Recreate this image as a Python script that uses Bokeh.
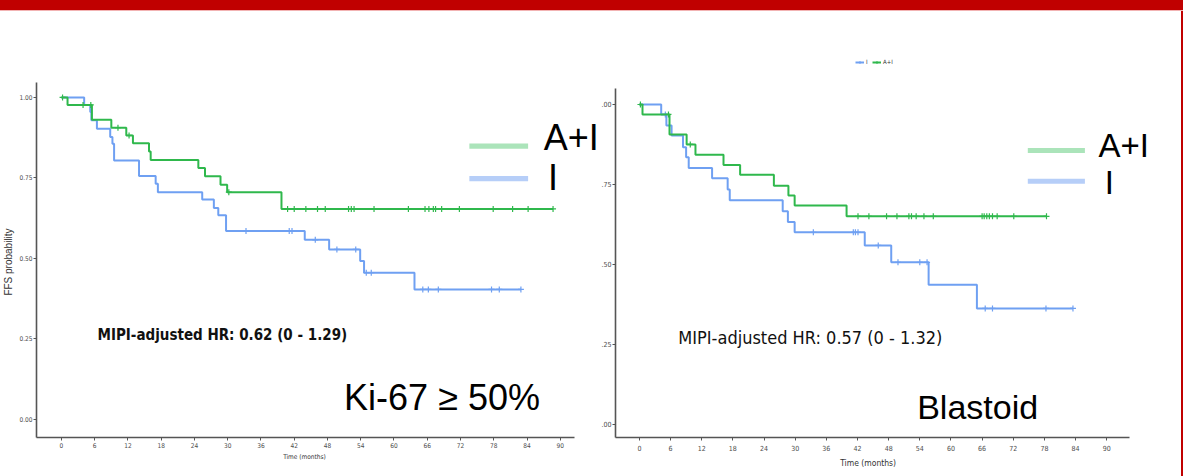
import numpy as np
from bokeh.plotting import figure
from bokeh.models import (Range1d, FixedTicker, Label, BoxAnnotation, Legend,
                          LegendItem, Div)
from bokeh.layouts import row, column
from bokeh.embed import file_html
from bokeh.resources import INLINE

# ---------------- data ----------------
x_ticks = [0, 6, 12, 18, 24, 30, 36, 42, 48, 54, 60, 66, 72, 78, 84, 90]
y_ticks = [0.0, 0.25, 0.5, 0.75, 1.0]
left_y_labels = ["0.00", "0.25", "0.50", "0.75", "1.00"]
right_y_labels = [".00", ".25", ".50", ".75", ".00"]

# Left panel (Ki-67 >= 50%)
ki_ai_time = [0, 1.1, 5.5, 9.0, 11.7, 12.9, 15.8, 16.1, 24.7, 25.9, 28.7, 29.9, 39.7, 88.7]
ki_ai_surv = [1.0, 0.977, 0.931, 0.906, 0.882, 0.858, 0.832, 0.806, 0.781, 0.755, 0.729, 0.706, 0.654, 0.654]
ki_ai_cens = [0.2, 3.9, 5.3, 10.2, 12.2, 30.2, 40.8, 42.0, 44.1, 46.2, 47.6, 51.8, 52.3, 52.8, 56.4,
              62.6, 65.6, 66.3, 67.1, 67.5, 68.6, 71.8, 77.9, 81.4, 84.2, 88.7]
ki_i_time = [0, 4.1, 5.2, 5.4, 6.4, 8.8, 9.2, 9.5, 14.0, 17.0, 17.4, 25.4, 27.5, 28.3, 29.7,
             43.9, 48.3, 53.9, 54.6, 63.7, 82.9]
ki_i_surv = [1.0, 0.977, 0.955, 0.929, 0.903, 0.877, 0.856, 0.804, 0.756, 0.732, 0.706, 0.683,
             0.657, 0.634, 0.585, 0.558, 0.528, 0.492, 0.456, 0.404, 0.404]
ki_i_cens = [33.3, 41.1, 41.6, 45.8, 49.7, 53.1, 55.0, 55.9, 65.2, 66.2, 68.0, 77.6, 79.0, 82.9]

# Right panel (Blastoid)
bl_ai_time = [0, 0.6, 5.8, 9.1, 10.8, 16.2, 19.4, 25.9, 28.7, 29.9, 39.9, 78.4]
bl_ai_surv = [1.0, 0.969, 0.906, 0.875, 0.843, 0.811, 0.780, 0.746, 0.715, 0.684, 0.650, 0.650]
bl_ai_cens = [0.2, 5.6, 9.8, 42.1, 44.2, 47.6, 49.6, 51.9, 52.4, 53.3, 54.8, 56.6, 66.0, 66.4,
              66.9, 67.4, 68.0, 68.9, 72.1, 78.4]
bl_i_time = [0, 4.2, 5.2, 6.2, 8.4, 9.0, 9.5, 14.0, 17.0, 17.4, 27.6, 28.6, 29.9, 43.4, 48.5,
             55.7, 65.0, 83.5]
bl_i_surv = [1.0, 0.969, 0.934, 0.903, 0.866, 0.835, 0.801, 0.769, 0.734, 0.700, 0.666, 0.632,
             0.600, 0.559, 0.506, 0.436, 0.362, 0.362]
bl_i_cens = [5.0, 33.5, 41.2, 41.6, 42.1, 46.0, 49.8, 54.0, 55.4, 66.6, 68.0, 78.3, 83.5]

GREEN = "#2fb84c"
BLUE = "#6fa0f2"
PALE_GREEN = "#abe4ba"
PALE_BLUE = "#b6cef8"
RED = "#c00000"
NARROW = "DejaVu Sans Condensed"
SANS = "Liberation Sans"
NBSP = "\u00a0"


def surv_at(times, surv, t):
    times = np.asarray(times)
    surv = np.asarray(surv)
    idx = np.searchsorted(times, np.asarray(t), side="right") - 1
    return surv[np.clip(idx, 0, len(surv) - 1)]


def style_axes(p, tick_font, ylabels, xlabel, xlabel_size, xlabel_standoff, xtick_standoff,
               xbounds, ybounds):
    for ax in (p.xaxis[0], p.yaxis[0]):
        ax.axis_line_color = "#555555"
        ax.axis_line_width = 1.6
        ax.major_tick_line_color = "#555555"
        ax.major_tick_out = 3
        ax.major_tick_in = 0
        ax.minor_tick_line_color = None
        ax.major_label_text_font = NARROW
        ax.major_label_text_font_size = tick_font
        ax.major_label_text_color = "#4d4d4d"
        ax.axis_label_text_font_style = "normal"
        ax.axis_label_text_color = "#333333"
    p.xaxis.bounds = xbounds
    p.yaxis.bounds = ybounds
    p.xaxis.ticker = FixedTicker(ticks=x_ticks)
    p.yaxis.ticker = FixedTicker(ticks=y_ticks)
    p.yaxis.major_label_overrides = {t: l for t, l in zip(y_ticks, ylabels)}
    p.yaxis.major_label_standoff = 1
    p.xaxis.major_label_standoff = xtick_standoff
    p.xaxis.axis_label = xlabel
    p.xaxis.axis_label_text_font = NARROW
    p.xaxis.axis_label_text_font_size = xlabel_size
    p.xaxis.axis_label_standoff = xlabel_standoff
    p.xgrid.visible = False
    p.ygrid.visible = False
    p.outline_line_color = None


def draw_km(p, times, surv, cens, color):
    r1 = p.step(times, surv, mode="after", line_color=color, line_width=2)
    r2 = p.scatter(cens, surv_at(times, surv, cens), marker="cross", size=6,
                   line_color=color, line_width=1.2)
    return r1, r2


# ---------------- left panel ----------------
p1 = figure(width=598, height=465, output_backend="svg", toolbar_location=None,
            x_range=Range1d(-4.5, 96.9), y_range=Range1d(-0.056, 1.267),
            min_border_left=32, min_border_right=0, min_border_top=0,
            min_border_bottom=39, background_fill_color="white",
            border_fill_color="white")
style_axes(p1, "6.5px", left_y_labels, "Time (months)" + NBSP * 14, "6.5px", 2, 2,
           (-4.5, 92.6), (-0.056, 1.047))
p1.yaxis.axis_label = "FFS probability" + NBSP * 27
p1.yaxis.axis_label_text_font = SANS
p1.yaxis.axis_label_text_font_size = "10px"
p1.yaxis.axis_label_standoff = 2

draw_km(p1, ki_i_time, ki_i_surv, ki_i_cens, BLUE)
draw_km(p1, ki_ai_time, ki_ai_surv, ki_ai_cens, GREEN)

p1.add_layout(Label(x=6.5, y=0.262, text="MIPI-adjusted HR: 0.62 (0 - 1.29)",
                    text_font=NARROW, text_font_style="bold", text_font_size="15px",
                    text_color="#111111", text_baseline="middle"))
p1.add_layout(Label(x=51.0, y=0.067, text="Ki-67 \u2265 50%", text_font=SANS,
                    text_font_size="36px", text_color="#000000", text_baseline="middle"))
p1.add_layout(BoxAnnotation(left=73.6, right=84.2, bottom=0.841, top=0.857,
                            fill_color=PALE_GREEN, fill_alpha=1, line_alpha=0))
p1.add_layout(BoxAnnotation(left=73.6, right=84.2, bottom=0.740, top=0.756,
                            fill_color=PALE_BLUE, fill_alpha=1, line_alpha=0))
p1.add_layout(Label(x=87.0, y=0.876, text="A+I", text_font=SANS, text_font_size="36px",
                    text_color="#000000", text_baseline="middle"))
p1.add_layout(Label(x=87.8, y=0.752, text="I", text_font=SANS, text_font_size="36px",
                    text_color="#000000", text_baseline="middle"))

# ---------------- right panel ----------------
p2 = figure(width=583, height=465, output_backend="svg", toolbar_location=None,
            x_range=Range1d(-4.6, 104.4), y_range=Range1d(-0.042, 1.291),
            min_border_left=15, min_border_right=0, min_border_top=0,
            min_border_bottom=39, background_fill_color="white",
            border_fill_color="white")
style_axes(p2, "7px", right_y_labels, "Time (months)" + NBSP * 25, "8.5px", 4, 4,
           (-4.6, 94.4), (-0.042, 1.049))

bi1, bi2 = draw_km(p2, bl_i_time, bl_i_surv, bl_i_cens, BLUE)
ba1, ba2 = draw_km(p2, bl_ai_time, bl_ai_surv, bl_ai_cens, GREEN)

top_legend = Legend(items=[LegendItem(label="I", renderers=[bi1, bi2]),
                           LegendItem(label="A+I", renderers=[ba1, ba2])],
                    orientation="horizontal", location=(240, 372),
                    label_text_font=NARROW, label_text_font_size="6px",
                    label_text_color="#333333", glyph_width=9, glyph_height=6,
                    label_standoff=2, spacing=4, padding=0, margin=0,
                    border_line_alpha=0, background_fill_alpha=0,
                    label_height=6, label_width=2)
p2.add_layout(top_legend)

p2.add_layout(Label(x=7.5, y=0.272, text="MIPI-adjusted HR: 0.57 (0 - 1.32)",
                    text_font=NARROW, text_font_size="18px", text_color="#111111",
                    text_baseline="middle"))
p2.add_layout(Label(x=53.5, y=0.053, text="Blastoid", text_font=SANS,
                    text_font_size="34px", text_color="#000000", text_baseline="middle"))
p2.add_layout(BoxAnnotation(left=74.8, right=85.8, bottom=0.848, top=0.864,
                            fill_color=PALE_GREEN, fill_alpha=1, line_alpha=0))
p2.add_layout(BoxAnnotation(left=74.8, right=85.8, bottom=0.752, top=0.768,
                            fill_color=PALE_BLUE, fill_alpha=1, line_alpha=0))
p2.add_layout(Label(x=88.4, y=0.872, text="A+I", text_font=SANS, text_font_size="33px",
                    text_color="#000000", text_baseline="middle"))
p2.add_layout(Label(x=89.6, y=0.756, text="I", text_font=SANS, text_font_size="33px",
                    text_color="#000000", text_baseline="middle"))

# ---------------- page frame ----------------
top_bar = Div(text="", width=1183, height=11, margin=0,
              styles={"background-color": RED, "border-bottom": "1px solid #f2b3b3"})
right_bar = Div(text="", width=2, height=465, margin=0,
                styles={"background-color": RED})

layout = column(top_bar, row(p1, p2, right_bar, spacing=0), spacing=0)

open("out.html", "w").write(file_html(layout, INLINE))
